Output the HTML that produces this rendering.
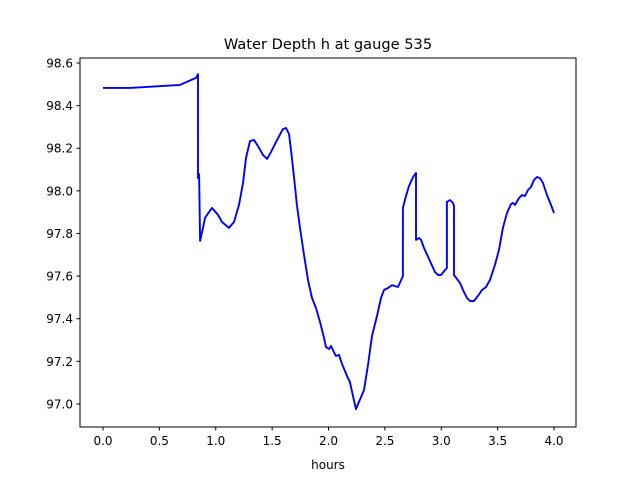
<!DOCTYPE html>
<html><head><meta charset="utf-8"><style>body{margin:0;background:#fff}svg{display:block;font-family:"DejaVu Sans","Liberation Sans",sans-serif}</style></head>
<body>
<svg id="chart" width="640" height="480">
<rect width="640" height="480" fill="#fff"/>
<text x="328" y="49" text-anchor="middle" font-size="14.6">Water Depth h at gauge 535</text>
<text x="328" y="469" text-anchor="middle" font-size="12">hours</text>
<g id="ticks"></g>
<path id="line" fill="none" stroke="#0000ff" stroke-width="1.9" stroke-linejoin="round"/>
<rect x="80" y="58" width="496" height="369" fill="none" stroke="#000" stroke-width="1"/>
</svg>
<script>
const hours=[0,0.24,0.683,0.825,0.843,0.843,0.852,0.861,0.887,0.905,0.922,0.967,1.02,1.055,1.117,1.162,1.206,1.242,1.268,1.304,1.339,1.375,1.419,1.455,1.49,1.534,1.596,1.623,1.65,1.667,1.694,1.72,1.747,1.783,1.818,1.854,1.889,1.925,1.96,1.978,2.004,2.022,2.048,2.066,2.093,2.12,2.164,2.19,2.217,2.244,2.27,2.315,2.35,2.386,2.43,2.466,2.492,2.528,2.563,2.589,2.616,2.66,2.66,2.687,2.714,2.75,2.776,2.776,2.803,2.821,2.847,2.883,2.945,2.971,2.998,3.033,3.05,3.05,3.077,3.104,3.113,3.113,3.166,3.202,3.228,3.255,3.29,3.326,3.361,3.397,3.432,3.476,3.512,3.547,3.583,3.618,3.636,3.654,3.69,3.716,3.743,3.769,3.796,3.822,3.849,3.876,3.902,3.938,3.973,4.0];
const depth=[98.483,98.483,98.497,98.53,98.548,98.06,98.078,97.765,97.826,97.873,97.887,97.92,97.887,97.854,97.826,97.854,97.934,98.037,98.154,98.234,98.239,98.21,98.168,98.15,98.183,98.229,98.29,98.295,98.267,98.192,98.065,97.934,97.826,97.7,97.582,97.497,97.45,97.385,97.31,97.267,97.258,97.272,97.244,97.225,97.23,97.188,97.131,97.103,97.037,96.976,97.009,97.065,97.183,97.319,97.413,97.497,97.535,97.544,97.558,97.553,97.549,97.6,97.92,97.976,98.023,98.065,98.084,97.77,97.779,97.77,97.732,97.69,97.619,97.605,97.605,97.628,97.638,97.948,97.957,97.943,97.929,97.605,97.568,97.525,97.497,97.483,97.483,97.507,97.535,97.549,97.582,97.652,97.723,97.826,97.896,97.938,97.943,97.934,97.966,97.98,97.976,98.004,98.018,98.051,98.065,98.06,98.037,97.98,97.934,97.896];
const xTicks=[0,0.5,1,1.5,2,2.5,3,3.5,4];
const xTickLabels=["0.0","0.5","1.0","1.5","2.0","2.5","3.0","3.5","4.0"];
const yTicks=[97.0,97.2,97.4,97.6,97.8,98.0,98.2,98.4,98.6];
const yTickLabels=["97.0","97.2","97.4","97.6","97.8","98.0","98.2","98.4","98.6"];
const X=v=>103+v*112.75, Y=v=>63+(98.6-v)*213.1;
const NS="http://www.w3.org/2000/svg", g=document.getElementById('ticks');
function mk(t,a){const e=document.createElementNS(NS,t);for(const k in a)e.setAttribute(k,a[k]);g.appendChild(e);return e;}
xTicks.forEach((v,i)=>{
 const l=mk('line',{x1:X(v),x2:X(v),y1:427,y2:430.5,stroke:'#000'});
 
 
 const t=mk('text',{x:X(v),y:445,'text-anchor':'middle','font-size':12});t.textContent=xTickLabels[i];
 
 
});
yTicks.forEach((v,i)=>{
 const l=mk('line',{x1:76.5,x2:80,y1:Y(v),y2:Y(v),stroke:'#000'});
 
 
 const t=mk('text',{x:73,y:Y(v)+4.5,'text-anchor':'end','font-size':12});t.textContent=yTickLabels[i];
 
 
});
document.getElementById('line').setAttribute('d',hours.map((h,i)=>(i?'L':'M')+X(h).toFixed(1)+','+Y(depth[i]).toFixed(1)).join(''));
</script>
</body></html>
